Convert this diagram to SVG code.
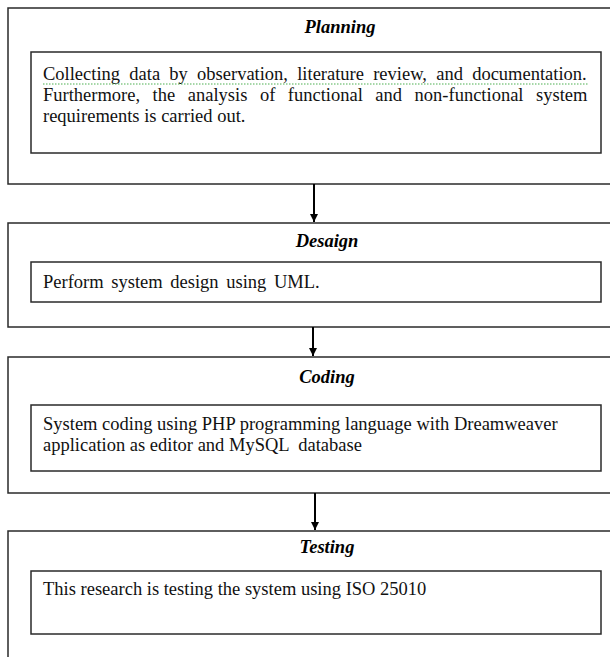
<svg xmlns="http://www.w3.org/2000/svg" width="610" height="657" viewBox="0 0 610 657">
<style>
.outer{fill:none;stroke:#2a2a2a;stroke-width:1.5}
.inner{fill:#fff;stroke:#2a2a2a;stroke-width:1.5}
.title{font-family:"Liberation Serif","Times New Roman",serif;font-size:18.5px;font-weight:bold;font-style:italic;fill:#000;text-anchor:middle}
.body{font-family:"Liberation Serif","Times New Roman",serif;font-size:18.5px;fill:#111}
.conn{stroke:#000;stroke-width:2;fill:none}
</style>
<defs>
<marker id="ah" viewBox="0 0 8 12" refX="8" refY="4" markerWidth="4" markerHeight="6" orient="auto" markerUnits="strokeWidth">
<path d="M0,0 L8,4 L0,8 z" fill="#000"/>
</marker>
</defs>
<rect width="610" height="657" fill="#fff"/>
<g id="planning">
<rect class="outer" x="8" y="8" width="620" height="176"/>
<text class="title" x="340" y="33">Planning</text>
<rect class="inner" x="31" y="52" width="570" height="101"/>
<text class="body" x="43" y="80" word-spacing="4.6">Collecting data by observation, literature review, and documentation.</text>
<line x1="43" y1="84" x2="588" y2="84" stroke="#4caf50" stroke-width="1.2" stroke-dasharray="1.5 1.5"/>
<text class="body" x="43" y="101" word-spacing="7.9">Furthermore, the analysis of functional and non-functional system</text>
<text class="body" x="43" y="122">requirements is carried out.</text>
</g>
<g id="design">
<rect class="outer" x="8" y="223" width="620" height="104"/>
<text class="title" x="327" y="247">Desaign</text>
<rect class="inner" x="31" y="262" width="570" height="40"/>
<text class="body" x="43" y="288" word-spacing="3">Perform system design using UML.</text>
</g>
<g id="coding">
<rect class="outer" x="8" y="357" width="620" height="136"/>
<text class="title" x="327" y="383">Coding</text>
<rect class="inner" x="31" y="405" width="570" height="66"/>
<text class="body" x="43" y="430">System coding using PHP programming language with Dreamweaver</text>
<text class="body" x="43" y="451" xml:space="preserve">application as editor and MySQL  database</text>
</g>
<g id="testing">
<rect class="outer" x="8" y="531" width="620" height="140"/>
<text class="title" x="327" y="553">Testing</text>
<rect class="inner" x="31" y="571" width="570" height="63"/>
<text class="body" x="43" y="595">This research is testing the system using ISO 25010</text>
</g>
<g id="connectors">
<line class="conn" x1="314" y1="184" x2="314" y2="222" marker-end="url(#ah)"/>
<line class="conn" x1="313" y1="327" x2="313" y2="356" marker-end="url(#ah)"/>
<line class="conn" x1="315" y1="493" x2="315" y2="530" marker-end="url(#ah)"/>
</g>
</svg>
